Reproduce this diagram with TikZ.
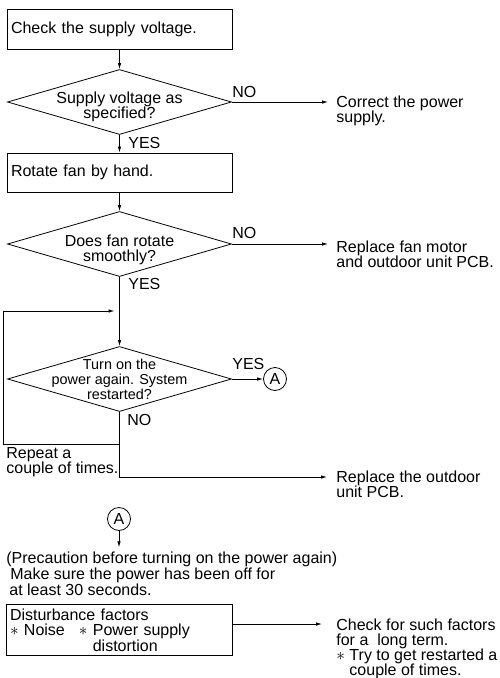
\documentclass[tikz,border=0pt]{standalone}
\usepackage{fontspec}
\setmainfont{Liberation Sans}
\usetikzlibrary{shapes.geometric, arrows.meta}

\begin{document}
\begin{tikzpicture}[x=1pt, y=-1pt, line width=0.8pt,
    font=\fontsize{16pt}{15pt}\selectfont,
    box/.style={draw, rectangle, inner xsep=4pt, text width=217pt, align=left},
    decision/.style={draw, diamond, minimum width=224pt, minimum height=65pt, inner sep=0pt},
    note/.style={inner sep=0pt, anchor=north west, align=left},
    answer/.style={inner sep=0pt, anchor=base west},
    connector/.style={draw, circle, minimum size=23pt, inner sep=0pt},
    flow/.style={-{Latex[length=6pt, width=3.5pt]}}]
\useasboundingbox (0,0) rectangle (499,678);

% main column
\node[box, minimum height=40pt] (box1) at (119.5,29) {Check the supply voltage.};
\node[decision] (d1) at (119.5,102) {};
\node[align=center, inner sep=0pt] (d1Text) at (119.5,107) {Supply voltage as\\specified?};
\node[box, minimum height=39pt] (box2) at (119.5,172.5) {Rotate fan by hand.};
\node[decision] (d2) at (119.5,244) {};
\node[align=center, inner sep=0pt] (d2Text) at (119.5,249.5) {Does fan rotate\\smoothly?};
\node[decision] (d3) at (119.5,379) {};
\node[align=center, inner sep=0pt, font=\fontsize{14.4pt}{15pt}\selectfont] (d3Text) at (119.5,379.5) {Turn on the\\power again. System\\restarted?};

% yes / no
\node[answer] (no1) at (232,97) {NO};
\node[answer] (yes1) at (128,148) {YES};
\node[answer] (no2) at (232,238) {NO};
\node[answer] (yes2) at (128,289) {YES};
\node[answer] (yes3) at (232,369) {YES};
\node[answer] (no3) at (127,425) {NO};

% actions on the right
\node[note] (ct1) at (336,95.3) {Correct the power\\supply.};
\node[note] (ct2) at (336,240.3) {Replace fan motor\\and outdoor unit PCB.};
\node[note] (ct3) at (336,470.3) {Replace the outdoor\\unit PCB.};
\node[note] (rep) at (6,447.3) {Repeat a\\couple of times.};

\node[connector] (a1) at (275,379) {A};
\node[connector] (a2) at (119,519) {A};

\node[note, font=\fontsize{16pt}{16pt}\selectfont] (pre) at (6,551.3) {(Precaution before turning on the power again)\\\hspace*{4pt}Make sure the power has been off for\\\hspace*{3pt}at least 30 seconds.};
\node[box, inner ysep=4.5pt, text width=218pt, font=\fontsize{16pt}{15.5pt}\selectfont] (box3) at (119,630) {Disturbance factors\\$\ast$ Noise\hspace{14pt}$\ast$ Power supply\\\hphantom{$\ast$ Noise\hspace{14pt}$\ast$ }distortion};
\node[note] (ct4) at (336,618.3) {Check for such factors\\for a\ \ long term.\\$\ast$ Try to get restarted a\\\hphantom{$\ast$ }couple of times.};

% connectors
\draw[flow] (box1) -- (d1);
\draw[flow] (d1) -- (box2);
\draw[flow] (box2) -- (d2);
\draw[flow] (d2) -- (d3);
\draw[flow, shorten >=8pt] (d1.east) -- (d1.east -| ct1.west);
\draw[flow, shorten >=8pt] (d2.east) -- (d2.east -| ct2.west);
\draw[flow] (d3.east) -- (a1);

\coordinate (loopTop) at (3,311);
\coordinate (loopBottom) at (3,444);
\draw[flow, shorten >=5pt] (d3.south |- loopBottom) -- (loopBottom) -- (loopTop) -- (d2.south |- loopTop);

\coordinate (bend) at (119.5,477);
\draw[flow, shorten >=9pt] (d3.south) -- (bend) -- (bend -| ct3.west);

\draw[flow, shorten >=4pt] (a2) -- (a2 |- pre.north);
\draw[flow, shorten >=14pt] ([yshift=6pt]box3.east) -- ([yshift=6pt]box3.east -| ct4.west);

\end{tikzpicture}
\end{document}
